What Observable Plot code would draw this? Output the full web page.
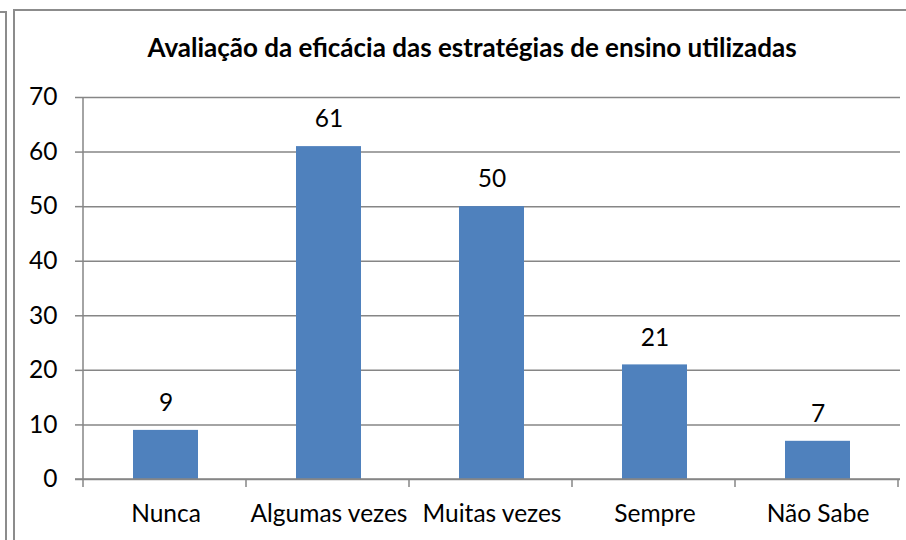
<!DOCTYPE html>
<html>
<head>
<meta charset="utf-8">
<script src="https://cdn.jsdelivr.net/npm/d3@7"></script>
<script src="https://cdn.jsdelivr.net/npm/@observablehq/plot@0.6"></script>
<style>
  html, body { margin: 0; padding: 0; background: #fff; overflow: hidden; }
  #wrap { position: relative; width: 906px; height: 540px; overflow: hidden; background: #fff; }
  #edge { position: absolute; left: 5px; top: 11px; width: 2px; height: 600px; background: #8c8c8c; }
  #edgeTop { position: absolute; left: 0px; top: 11px; width: 6px; height: 2px; background: #8c8c8c; }
  #frame { position: absolute; left: 13px; top: 9px; width: 1000px; height: 1000px; border: 2px solid #8c8c8c; box-sizing: border-box; }
  #title { position: absolute; left: 0; width: 944px; top: 31px; text-align: center; font-family: Lato, "Open Sans", sans-serif; font-weight: bold; font-size: 26px; line-height: 32px; color: #000; }
  #chart { position: absolute; left: 0; top: 0; }
</style>
</head>
<body>
<div id="wrap">
  <div id="edgeTop"></div>
  <div id="edge"></div>
  <div id="frame"></div>
  <div id="chart"></div>
  <div id="title">Avaliação da eficácia das estratégias de ensino utilizadas</div>
</div>
<script>
const categories = ["Nunca", "Algumas vezes", "Muitas vezes", "Sempre", "Não Sabe"];
const values = [9, 61, 50, 21, 7];
const yTicks = [0, 10, 20, 30, 40, 50, 60, 70];

const data = categories.map((c, i) => ({category: c, value: values[i]}));
const font = "Lato, 'Open Sans', sans-serif";
const gray = "#868686";
const fs = 24.5;

const chart = Plot.plot({
  width: 906,
  height: 540,
  marginLeft: 83,
  marginRight: 6,
  marginTop: 97,
  marginBottom: 61,
  style: {fontFamily: font, fontSize: fs + "px", background: "transparent", color: "#000"},
  x: {domain: categories, paddingInner: 0.6, paddingOuter: 0.3, label: null},
  y: {domain: [0, 70], label: null},
  marks: [
    Plot.gridY(yTicks, {stroke: gray, strokeOpacity: 1, strokeWidth: 1.5}),
    Plot.axisY(yTicks, {tickSize: 8, stroke: gray, strokeWidth: 1.5, text: null, label: null}),
    Plot.axisY(yTicks, {tickSize: 0, tickPadding: 26, fill: "#000", label: null, fontSize: fs}),
    Plot.axisX({tickSize: 0, tickPadding: 25, fill: "#000", label: null, fontSize: fs}),
    Plot.barY(data, {x: "category", y: "value", fill: "#4F81BD"}),
    Plot.text(data, {x: "category", y: "value", text: d => String(d.value), dy: -27, fill: "#000", fontSize: fs})
  ]
});

// Axis lines and category boundary ticks, derived from the chart's own scales
const sx = chart.scale("x");
const sy = chart.scale("y");
const [x0, x1] = sx.range;
const [yb, yt] = sy.range;
const step = sx.step;
const svg = d3.select(chart);
const g = svg.append("g").attr("stroke", gray).attr("stroke-width", 1.5);
g.append("line").attr("x1", x0).attr("x2", x0).attr("y1", yt).attr("y2", yb);
g.append("line").attr("x1", x0 - 8).attr("x2", x1).attr("y1", yb).attr("y2", yb);
for (let i = 0; i <= categories.length; i++) {
  const bx = x0 + i * step;
  g.append("line").attr("x1", bx).attr("x2", bx).attr("y1", yb).attr("y2", yb + 8);
}

document.getElementById("chart").appendChild(chart);
</script>
</body>
</html>
